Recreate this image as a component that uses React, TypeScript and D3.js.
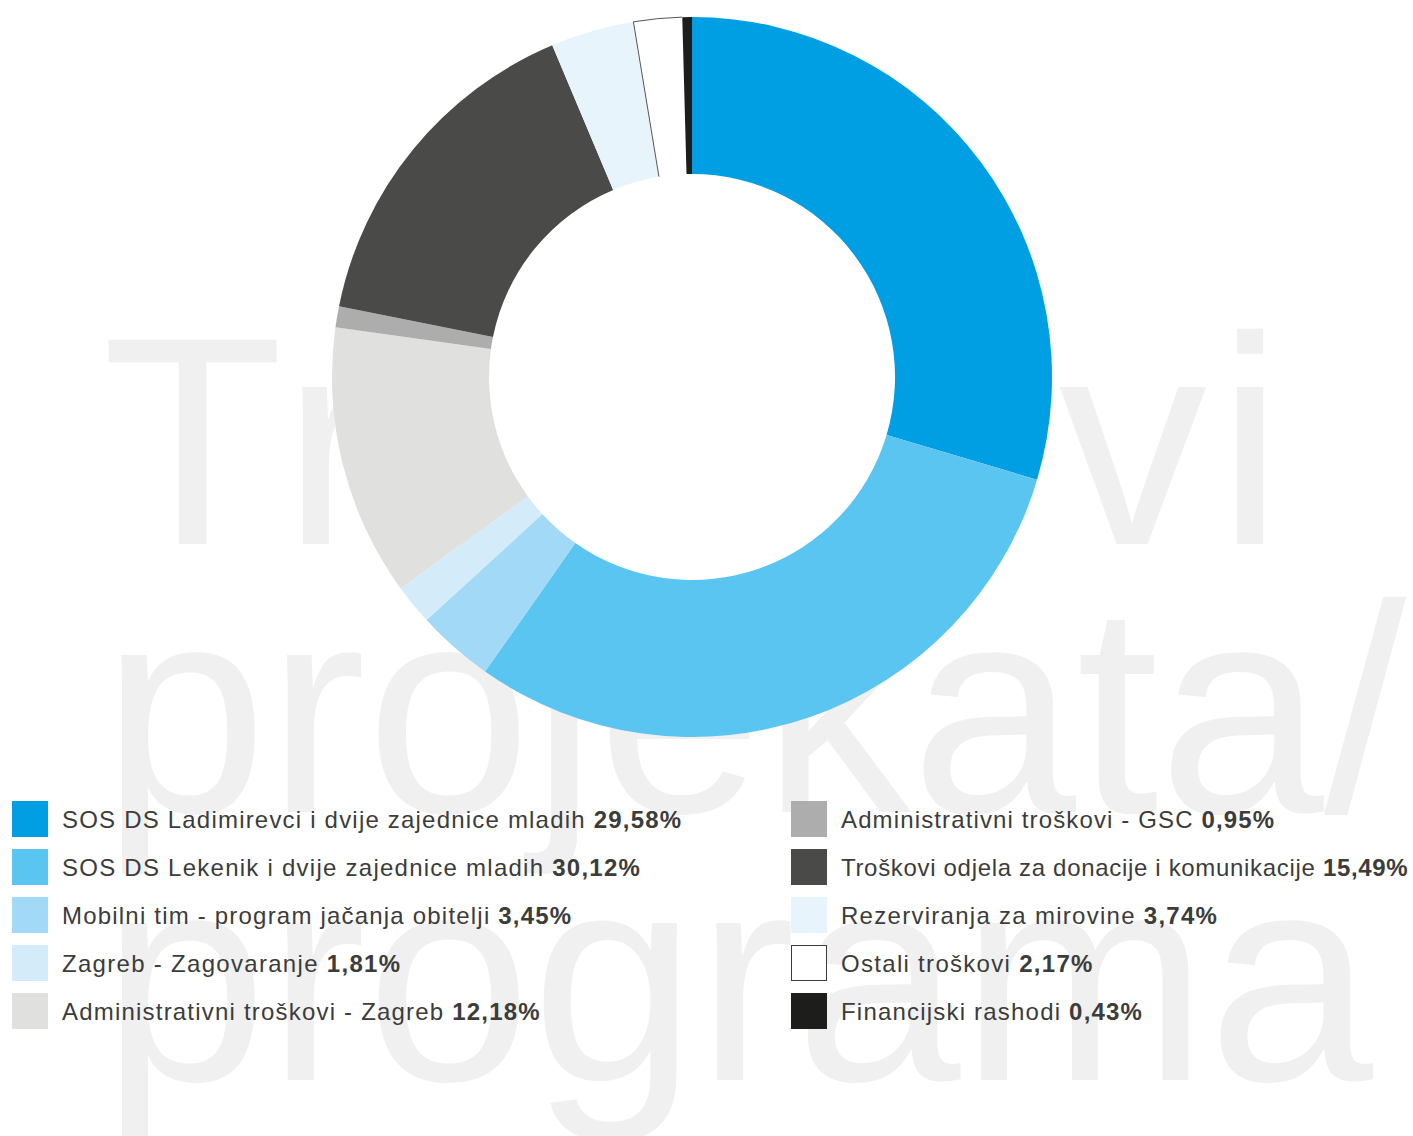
import React from "react";
import * as d3 from "d3";

const categories = [
  "SOS DS Ladimirevci i dvije zajednice mladih",
  "SOS DS Lekenik i dvije zajednice mladih",
  "Mobilni tim - program jačanja obitelji",
  "Zagreb - Zagovaranje",
  "Administrativni troškovi - Zagreb",
  "Administrativni troškovi - GSC",
  "Troškovi odjela za donacije i komunikacije",
  "Rezerviranja za mirovine",
  "Ostali troškovi",
  "Financijski rashodi",
];
const values = [29.58, 30.12, 3.45, 1.81, 12.18, 0.95, 15.49, 3.74, 2.17, 0.43];
const valueLabels = ["29,58%", "30,12%", "3,45%", "1,81%", "12,18%", "0,95%", "15,49%", "3,74%", "2,17%", "0,43%"];
const colors = ["#009FE3", "#5BC5F2", "#A1D9F7", "#D4EBFA", "#E0E0DF", "#ADADAD", "#4A4A49", "#E8F4FC", "#FFFFFF", "#1D1D1B"];
const outlined = [false, false, false, false, false, false, false, false, true, false];
const legendSpacing = [1.2, 1.25, 1.2, 1.3, 1.2, 1.13, 0.68, 1.28, 1.3, 1.2];
const watermarkLines = ["Troškovi", "projekata/", "programa"];

const W = 1413;
const H = 1136;
const FONT = "'Liberation Sans', Arial, Helvetica, sans-serif";

export default function App() {
  const cx = 692;
  const cy = 377;
  const rOuter = 360;
  const rInner = 203;

  const pie = d3.pie<number>().value((d) => d).sort(null).startAngle(0).endAngle(2 * Math.PI);
  const arcs = pie(values);
  const arc = d3.arc<d3.PieArcDatum<number>>().innerRadius(rInner).outerRadius(rOuter);

  const rowY = d3.scaleLinear().domain([0, 1]).range([801, 849]);
  const colX = d3.scaleOrdinal<number, number>().domain([0, 1]).range([12, 791]);
  const perCol = 5;

  const outlinePath = (a: d3.PieArcDatum<number>) => {
    const p = d3.path();
    const s = a.startAngle - Math.PI / 2;
    const e = a.endAngle - Math.PI / 2;
    p.moveTo(rInner * Math.cos(s), rInner * Math.sin(s));
    p.lineTo(rOuter * Math.cos(s), rOuter * Math.sin(s));
    p.arc(0, 0, rOuter, s, e, false);
    return p.toString();
  };

  const wmBase = [544, 812, 1080];

  return (
    <div style={{ position: "absolute", left: 0, top: 0, width: W, height: H, background: "#fff" }}>
      <svg width={W} height={H} viewBox={`0 0 ${W} ${H}`} style={{ display: "block" }}>
        <rect width={W} height={H} fill="#ffffff" />
        <g fill="#F0F0F0" fontFamily={FONT} fontSize={297}>
          {watermarkLines.map((t, i) => (
            <text key={t} x={102} y={wmBase[i]} letterSpacing={i === 0 ? 10 : 0}>
              {t}
            </text>
          ))}
        </g>
        <g transform={`translate(${cx},${cy})`}>
          <circle r={rInner} fill="#ffffff" />
          {arcs.map((a, i) => (
            <path key={i} d={arc(a) || ""} fill={colors[i]} />
          ))}
          {arcs.map((a, i) =>
            outlined[i] ? (
              <path key={`o${i}`} d={outlinePath(a)} fill="none" stroke="#555" strokeWidth={1} />
            ) : null
          )}
        </g>
        <g fontFamily={FONT} fontSize={24} fill="#3C3C3B">
          {categories.map((c, i) => {
            const col = Math.floor(i / perCol);
            const row = i % perCol;
            const x = colX(col);
            const y = rowY(row);
            return (
              <g key={c}>
                <rect
                  x={outlined[i] ? x + 0.5 : x}
                  y={outlined[i] ? y + 0.5 : y}
                  width={outlined[i] ? 35 : 36}
                  height={outlined[i] ? 35 : 36}
                  fill={colors[i]}
                  stroke={outlined[i] ? "#3C3C3B" : "none"}
                  strokeWidth={1}
                />
                <text x={x + 50} y={y + 27} letterSpacing={legendSpacing[i]}>
                  <tspan>{`${c} `}</tspan>
                  <tspan fontWeight="bold">{valueLabels[i]}</tspan>
                </text>
              </g>
            );
          })}
        </g>
      </svg>
    </div>
  );
}
